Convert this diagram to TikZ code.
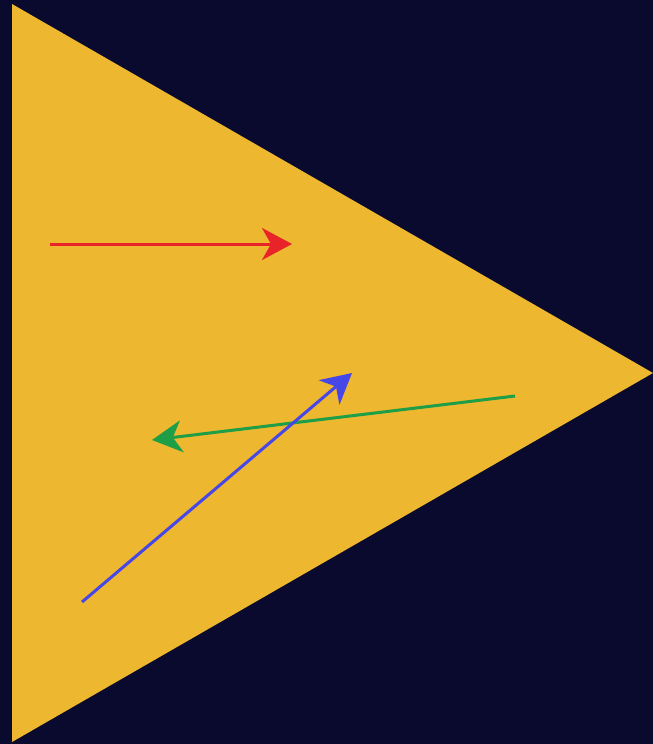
\documentclass[tikz,border=0pt]{standalone}
\usetikzlibrary{arrows.meta}
\definecolor{bgnavy}{HTML}{0A0A2E}
\definecolor{tri}{HTML}{EDB72F}
\definecolor{redarr}{HTML}{E8232A}
\definecolor{greenarr}{HTML}{1F9E48}
\definecolor{bluearr}{HTML}{4747E8}
\tikzset{
  vec/.style={line width=3pt, -{Stealth[length=30pt,width=32pt,inset=9pt]}}
}
\begin{document}
\begin{tikzpicture}[x=1pt,y=-1pt]
\fill[bgnavy] (0,0) rectangle (653,744);
\useasboundingbox (0,0) rectangle (653,744);
\fill[tri] (12,4) -- (653,373) -- (12,742) -- cycle;
\coordinate (r0) at (50,244);
\coordinate (r1) at (292,244);
\coordinate (g0) at (515,396);
\coordinate (g1) at (152,440);
\coordinate (b0) at (82,602);
\coordinate (b1) at (352,373);
\draw[vec, redarr] (r0) -- (r1);
\draw[vec, greenarr] (g0) -- (g1);
\draw[vec, bluearr] (b0) -- (b1);
\end{tikzpicture}
\end{document}
